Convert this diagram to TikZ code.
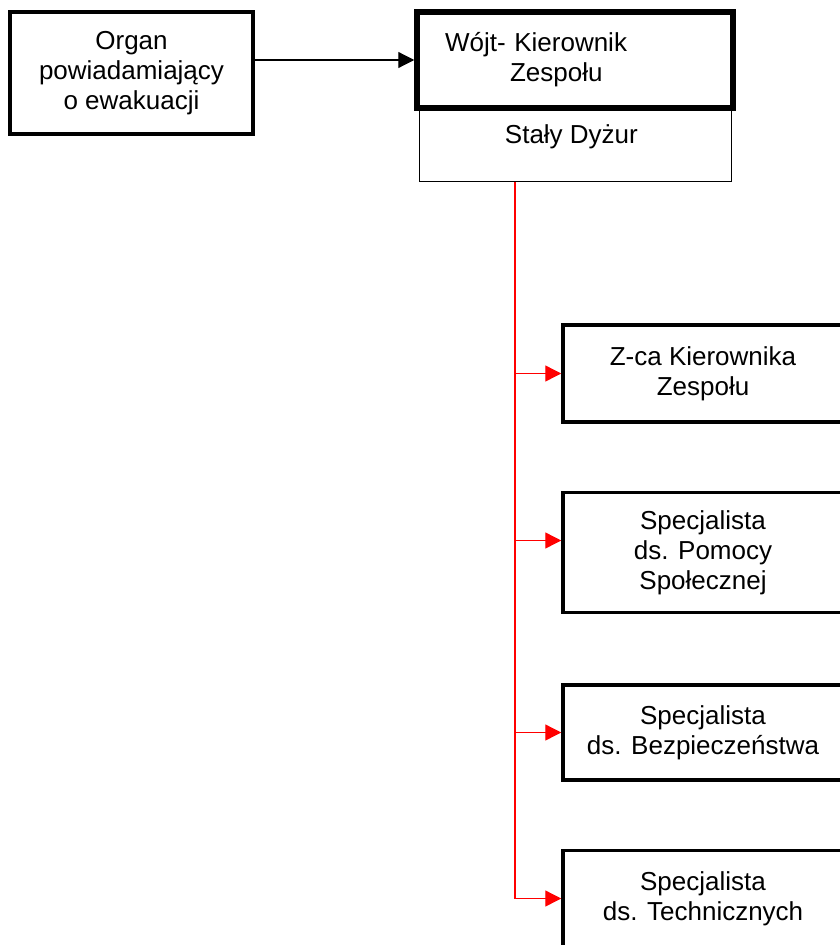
\documentclass[tikz,border=0pt]{standalone}
\usepackage{fontspec}
\setmainfont{Liberation Sans}
\usetikzlibrary{arrows.meta, positioning}

\begin{document}
\begin{tikzpicture}[x=1pt, y=1pt,
nodes = {
draw=black,
align=center,
font=\fontsize{26}{30}\selectfont,
inner sep=0pt
},
unitbox/.style = {line width=3.5pt, minimum width=280pt},
arr/.style = {-{Triangle[length=16pt,width=16pt]}, line width=1.2pt},
redarr/.style = {-{Triangle[length=16pt,width=16pt]}, draw=red, line width=1.4pt}]

\path[use as bounding box] (0,0) rectangle (839,-945);

% top row
\node (organ) [line width=3.5pt, minimum width=243pt, minimum height=122pt] at (131.5,-73) {
Organ\\
powiadamiający\\
o ewakuacji
};
\node (wojt) [line width=5.5pt, minimum width=316pt, minimum height=96pt, align=left, text width=260pt] at (575,-60) {
Wójt- Kierownik\\
\hspace*{65pt}Zespołu
};
\node (duty) [below = -3pt of wojt, line width=1pt, minimum width=312pt, minimum height=73pt, text height=18pt, text depth=21pt] {
Stały Dyżur
};

% team
\node (zca) [unitbox, minimum height=97pt] at (703,-373.5) {
Z-ca Kierownika\\
Zespołu
};
\node (spol) [unitbox, minimum height=120pt, below = 67pt of zca] {
Specjalista\\
ds. Pomocy\\
Społecznej
};
\node (bezp) [unitbox, minimum height=95pt, below = 69pt of spol] {
Specjalista\\
ds. Bezpieczeństwa
};
\node (tech) [unitbox, minimum height=96pt, below = 67pt of bezp] {
Specjalista\\
ds. Technicznych
};

% connections
\coordinate (trunk) at ([xshift=-60pt]duty.south);
\draw [arr] (organ.east |- wojt.west) to (wojt.west);
\draw [redarr] (trunk) |- (tech.west);
\draw [redarr] (trunk |- zca.west) to (zca.west);
\draw [redarr] ([yshift=12pt]trunk |- spol.west) to ([yshift=12pt]spol.west);
\draw [redarr] (trunk |- bezp.west) to (bezp.west);

\end{tikzpicture}
\end{document}
